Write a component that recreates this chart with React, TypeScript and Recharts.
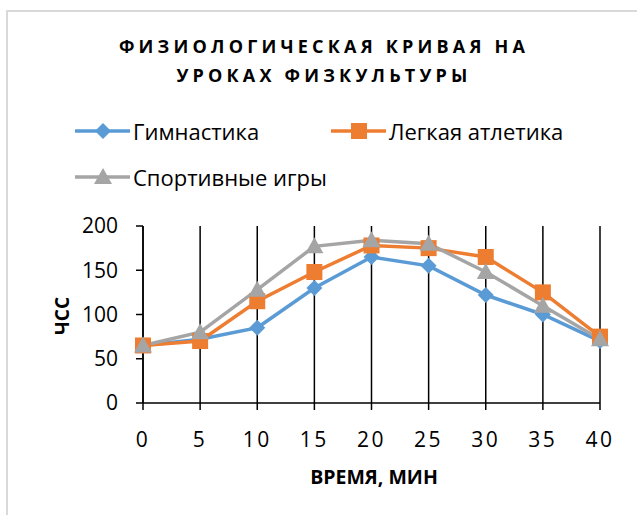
import { LineChart, Line, XAxis, YAxis, CartesianGrid, Legend } from "recharts"

const minutes = [0, 5, 10, 15, 20, 25, 30, 35, 40]
const gymnastics = [65, 72, 85, 130, 165, 155, 122, 100, 70]
const athletics = [65, 70, 115, 148, 178, 175, 165, 125, 75]
const sportGames = [65, 80, 128, 177, 184, 180, 148, 110, 72]
const yTicks = [0, 50, 100, 150, 200]

const SERIES = [
  { key: "g", name: "Гимнастика", color: "#5B9BD5", shape: "diamond" },
  { key: "a", name: "Легкая атлетика", color: "#ED7D31", shape: "square" },
  { key: "s", name: "Спортивные игры", color: "#A5A5A5", shape: "triangle" },
]

const data = minutes.map((t, i) => ({
  t,
  g: gymnastics[i],
  a: athletics[i],
  s: sportGames[i],
}))

const FONT = "'Open Sans', sans-serif"

function Marker({ cx, cy, shape, color }: any) {
  if (cx == null || cy == null) return null
  if (shape === "diamond") {
    return <path d={`M${cx},${cy - 8}L${cx + 8},${cy}L${cx},${cy + 8}L${cx - 8},${cy}Z`} fill={color} />
  }
  if (shape === "square") {
    return <rect x={cx - 8} y={cy - 8} width={16} height={16} fill={color} />
  }
  return <path d={`M${cx},${cy - 9}L${cx + 9},${cy + 7}L${cx - 9},${cy + 7}Z`} fill={color} />
}

function LegendItem({ s }: any) {
  return (
    <div style={{ display: "flex", alignItems: "center", height: 46 }}>
      <svg width={58} height={20}>
        <line x1={1} y1={10} x2={56} y2={10} stroke={s.color} strokeWidth={3.5} />
        <Marker cx={29} cy={10} shape={s.shape} color={s.color} />
      </svg>
      <span style={{ fontSize: 22, color: "#000", marginLeft: 1 }}>{s.name}</span>
    </div>
  )
}

function renderLegend() {
  return (
    <div style={{ position: "relative", width: 637, height: 92, fontFamily: FONT }}>
      <div style={{ position: "absolute", left: 74, top: 0 }}>
        <LegendItem s={SERIES[0]} />
      </div>
      <div style={{ position: "absolute", left: 330, top: 0 }}>
        <LegendItem s={SERIES[1]} />
      </div>
      <div style={{ position: "absolute", left: 74, top: 46 }}>
        <LegendItem s={SERIES[2]} />
      </div>
    </div>
  )
}

export default function App() {
  return (
    <div
      style={{
        position: "absolute",
        left: 0,
        top: 0,
        width: 637,
        height: 515,
        overflow: "hidden",
        background: "#fff",
        fontFamily: FONT,
      }}
    >
      <div
        style={{
          position: "absolute",
          left: 6,
          top: 10,
          width: 700,
          height: 600,
          borderLeft: "2px solid #d9d9d9",
          borderTop: "2px solid #d9d9d9",
        }}
      />
      <div
        style={{
          position: "absolute",
          left: 0,
          top: 32,
          width: 648,
          textAlign: "center",
          fontWeight: 700,
          fontSize: 18,
          letterSpacing: 4.2,
          lineHeight: "29px",
          color: "#000",
        }}
      >
        ФИЗИОЛОГИЧЕСКАЯ КРИВАЯ НА
        <br />
        УРОКАХ ФИЗКУЛЬТУРЫ
      </div>
      <div
        style={{
          position: "absolute",
          left: 62,
          top: 316,
          transform: "translate(-50%, -50%) rotate(-90deg)",
          fontWeight: 700,
          fontSize: 19,
          color: "#000",
          whiteSpace: "nowrap",
        }}
      >
        ЧСС
      </div>
      <div
        style={{
          position: "absolute",
          left: 374,
          top: 476,
          transform: "translate(-50%, -50%)",
          fontWeight: 700,
          fontSize: 19.5,
          color: "#000",
          whiteSpace: "nowrap",
        }}
      >
        ВРЕМЯ, МИН
      </div>
      <div style={{ position: "absolute", left: 0, top: 0 }}>
        <LineChart
          width={637}
          height={515}
          data={data}
          margin={{ top: 226, right: 37, left: 83, bottom: 82 }}
        >
          <CartesianGrid horizontal={false} stroke="#000" strokeWidth={1.5} />
          <XAxis
            dataKey="t"
            type="number"
            domain={[0, 40]}
            ticks={minutes}
            height={30}
            stroke="#000"
            strokeWidth={1.5}
            tickSize={7}
            tickMargin={22}
            tick={{ fill: "#000", fontSize: 21, fontFamily: FONT, letterSpacing: 2.5 }}
          />
          <YAxis
            domain={[0, 200]}
            ticks={yTicks}
            width={60}
            stroke="#000"
            strokeWidth={1.5}
            tickSize={7}
            tickMargin={18}
            tick={{ fill: "#000", fontSize: 21, fontFamily: FONT }}
          />
          <Legend verticalAlign="middle" content={renderLegend} wrapperStyle={{ top: 108, left: 0 }} />
          {SERIES.map((s) => (
            <Line
              key={s.key}
              dataKey={s.key}
              name={s.name}
              stroke={s.color}
              strokeWidth={3.5}
              isAnimationActive={false}
              dot={(p: any) => <Marker key={`${s.key}-${p.index}`} cx={p.cx} cy={p.cy} shape={s.shape} color={s.color} />}
              activeDot={false}
            />
          ))}
        </LineChart>
      </div>
    </div>
  )
}
